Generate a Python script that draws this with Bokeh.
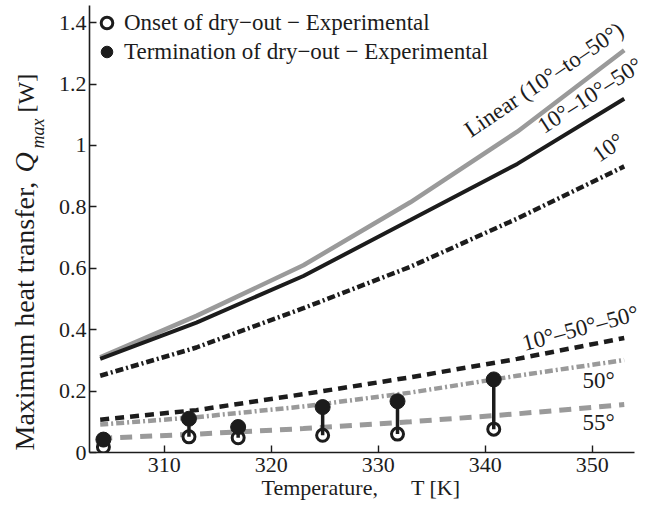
import math
from bokeh.plotting import figure
from bokeh.layouts import row
from bokeh.models import (Range1d, FixedTicker, CustomJSTickFormatter, Label,
                          Legend, LegendItem, ColumnDataSource)
from bokeh.embed import file_html
from bokeh.resources import INLINE

# ---------------- data ----------------
T_model = [304, 313, 323, 333, 343, 353]
q_linear = [0.31, 0.445, 0.61, 0.815, 1.045, 1.31]
q_10_10_50 = [0.305, 0.423, 0.575, 0.757, 0.94, 1.152]
q_10 = [0.25, 0.342, 0.47, 0.605, 0.762, 0.932]
q_10_50_50 = [0.107, 0.138, 0.19, 0.245, 0.305, 0.373]
q_50 = [0.091, 0.115, 0.15, 0.195, 0.25, 0.301]
q_55 = [0.046, 0.06, 0.078, 0.1, 0.126, 0.156]

T_exp = [304.3, 312.3, 316.9, 324.8, 331.8, 340.8]
q_onset = [0.018, 0.051, 0.048, 0.056, 0.06, 0.076]
q_term = [0.042, 0.11, 0.083, 0.148, 0.167, 0.238]

x_ticks = [310, 320, 330, 340, 350]
y_ticks = [0, 0.2, 0.4, 0.6, 0.8, 1.0, 1.2, 1.4]

legend_labels = ["Onset of dry\u2212out \u2212 Experimental",
                 "Termination of dry\u2212out \u2212 Experimental"]

# ---------------- styling ----------------
FONT = "Liberation Serif"
INK = "#1c1c1c"
GRAY = "#9a9a9a"
LEFT_W = 46
NB = "\u00a0"

p = figure(width=656 - LEFT_W, height=507, output_backend="svg", toolbar_location=None,
           x_range=Range1d(303, 355.83), y_range=Range1d(0, 1.456),
           min_border_left=89 - LEFT_W, min_border_right=2, min_border_top=5,
           min_border_bottom=55)
p.outline_line_color = None
p.xgrid.grid_line_color = None
p.ygrid.grid_line_color = None
p.background_fill_color = "white"
p.border_fill_color = "white"

for ax in (p.xaxis[0], p.yaxis[0]):
    ax.axis_line_color = INK
    ax.axis_line_width = 1.6
    ax.major_tick_line_color = INK
    ax.major_tick_line_width = 1.4
    ax.major_tick_in = 7
    ax.major_tick_out = 0
    ax.minor_tick_line_color = None
    ax.major_label_text_font = FONT
    ax.major_label_text_font_size = "22px"
    ax.major_label_text_color = INK

p.xaxis.bounds = (303, 354)
p.xaxis.ticker = FixedTicker(ticks=x_ticks)
p.yaxis.ticker = FixedTicker(ticks=y_ticks)
p.yaxis.formatter = CustomJSTickFormatter(code="return (Math.round(tick*10)/10).toString()")
p.xaxis.major_label_standoff = 5
p.yaxis.major_label_standoff = 3
# trailing spaces re-centre the title on the drawn part of the axis
p.xaxis.axis_label = "Temperature," + NB * 6 + "T [K]" + NB * 4
p.xaxis.axis_label_text_font = FONT
p.xaxis.axis_label_text_font_size = "22px"
p.xaxis.axis_label_text_font_style = "normal"
p.xaxis.axis_label_text_color = INK
p.xaxis.axis_label_standoff = 0

# ---------------- model curves ----------------
p.line(T_model, q_55, line_color=GRAY, line_width=5, line_dash="12 8")
p.line(T_model, q_50, line_color=GRAY, line_width=4.5, line_dash="8 3 2 3")
p.line(T_model, q_10_50_50, line_color=INK, line_width=4.5, line_dash="9 6")
p.line(T_model, q_10, line_color=INK, line_width=4.5, line_dash="8 3 2 3")
p.line(T_model, q_linear, line_color=GRAY, line_width=4.5)
p.line(T_model, q_10_10_50, line_color=INK, line_width=4)

# ---------------- experimental ----------------
src = ColumnDataSource(dict(T=T_exp, onset=q_onset, term=q_term))
r_open = p.scatter("T", "onset", source=src, marker="circle", size=12,
                   fill_color="white", line_color=INK, line_width=3)
p.segment("T", "onset", "T", "term", source=src, line_color=INK, line_width=3.5)
r_fill = p.scatter("T", "term", source=src, marker="circle", size=15,
                   fill_color=INK, line_color=INK, line_width=1)

legend = Legend(items=[LegendItem(label=legend_labels[0], renderers=[r_open]),
                       LegendItem(label=legend_labels[1], renderers=[r_fill])],
                location="top_left", margin=3, padding=0, spacing=0,
                glyph_width=29, glyph_height=29, label_height=29,
                label_standoff=3, label_text_font=FONT,
                label_text_font_size="23px", label_text_color=INK,
                border_line_color=None, background_fill_alpha=0)
p.add_layout(legend)

# ---------------- curve labels ----------------
def curve_label(text, x, y, deg):
    p.add_layout(Label(x=x, y=y, text=text, angle=math.radians(deg),
                       text_align="center", text_baseline="middle",
                       text_font=FONT, text_font_size="23px", text_color=INK))

curve_label("Linear (10\u00b0\u2013to\u201350\u00b0)", 345.5, 1.214, 34)
curve_label("10\u00b0\u201310\u00b0\u201350\u00b0", 349.8, 1.163, 33)
curve_label("10\u00b0", 351.5, 0.993, 35)
curve_label("10\u00b0\u201350\u00b0\u201350\u00b0", 348.9, 0.405, 15)
curve_label("50\u00b0", 350.6, 0.233, 0)
curve_label("55\u00b0", 350.6, 0.097, 0)

# ---------------- y-axis title panel (frame aligned with main frame) ----------------
ylab = figure(width=LEFT_W, height=507, output_backend="svg", toolbar_location=None,
              x_range=Range1d(0, LEFT_W), y_range=Range1d(0, 1),
              x_axis_location=None, y_axis_location=None,
              min_border_left=0, min_border_right=0, min_border_top=5,
              min_border_bottom=55)
ylab.outline_line_color = None
ylab.xgrid.grid_line_color = None
ylab.ygrid.grid_line_color = None
ylab.background_fill_color = "white"
ylab.border_fill_color = "white"

def ylab_text(text, x, y, size, style="normal"):
    ylab.add_layout(Label(x=x, y=y, x_units="screen", y_units="screen", text=text,
                          angle=math.pi / 2, text_align="left",
                          text_baseline="middle", text_font=FONT,
                          text_font_size=size, text_font_style=style,
                          text_color=INK))

ylab_text("Maximum heat transfer,", 24, 2, "28px")
ylab_text("Q", 24, 280, "28px", "italic")
ylab_text("max", 37, 304, "18px", "italic")
ylab_text("[W]", 25, 340, "24px")

layout = row(ylab, p, spacing=0)
open("out.html", "w").write(file_html(layout, INLINE))
